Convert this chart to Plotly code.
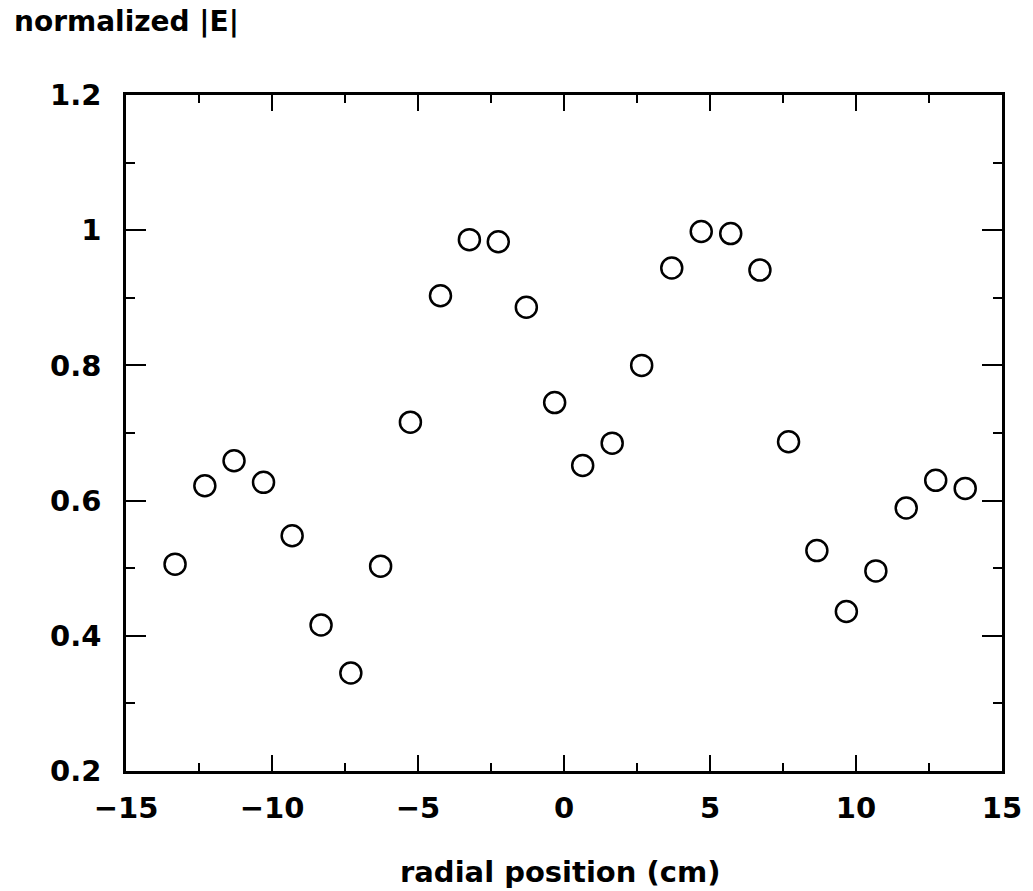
import plotly.graph_objects as go

# data
radial_cm = [-13.32, -12.30, -11.30, -10.29, -9.31, -8.32, -7.30, -6.28, -5.26, -4.23,
             -3.24, -2.25, -1.29, -0.32, 0.64, 1.65, 2.66, 3.69, 4.70, 5.71,
             6.71, 7.69, 8.66, 9.67, 10.68, 11.72, 12.73, 13.74]
norm_E = [0.506, 0.622, 0.659, 0.627, 0.548, 0.416, 0.345, 0.503, 0.716, 0.903,
          0.986, 0.983, 0.886, 0.745, 0.652, 0.685, 0.800, 0.944, 0.998, 0.995,
          0.941, 0.687, 0.526, 0.436, 0.496, 0.589, 0.630, 0.618]

x_ticks = [-15, -10, -5, 0, 5, 10, 15]
x_ticktext = ["\u221215", "\u221210", "\u22125", "0", "5", "10", "15"]
y_ticks = [0.2, 0.4, 0.6, 0.8, 1.0, 1.2]
y_ticktext = ["0.2", "0.4", "0.6", "0.8", "1", "1.2"]

FONT = "DejaVu Sans"

fig = go.Figure()
fig.add_trace(go.Scatter(
    x=radial_cm, y=norm_E, mode="markers",
    marker=dict(symbol="circle-open", size=21, color="black",
                line=dict(width=2.5, color="black")),
    showlegend=False,
))

W, H = 1033, 891
L, R, T, B = 126, 1002, 95, 771

axis_common = dict(
    showline=True, linewidth=2.5, linecolor="black",
    mirror="allticks", ticks="inside", tickwidth=2, tickcolor="black",
    showgrid=False, zeroline=False,
    tickfont=dict(family=FONT, size=29, color="black", weight="bold"),
)

fig.update_xaxes(
    range=[-15, 15], tickmode="array", tickvals=x_ticks, ticktext=x_ticktext,
    ticklen=16, ticklabelstandoff=9,
    minor=dict(dtick=2.5, ticks="inside", ticklen=8, tickwidth=2, tickcolor="black", showgrid=False),
    **axis_common,
)
fig.update_yaxes(
    range=[0.2, 1.2], tickmode="array", tickvals=y_ticks, ticktext=y_ticktext,
    ticklen=20, ticklabelstandoff=16,
    minor=dict(dtick=0.1, ticks="inside", ticklen=9, tickwidth=2, tickcolor="black", showgrid=False),
    **axis_common,
)

pw, ph = R - L, B - T
def px_x(p):
    return (p - L) / pw
def px_y(p):
    return (B - p) / ph

fig.add_annotation(
    text="normalized |E|", xref="paper", yref="paper",
    x=px_x(12), y=px_y(21), xanchor="left", yanchor="middle", showarrow=False,
    font=dict(family=FONT, size=28, color="black", weight="bold"),
)
fig.add_annotation(
    text="radial position (cm)", xref="paper", yref="paper",
    x=px_x(560), y=px_y(872), xanchor="center", yanchor="middle", showarrow=False,
    font=dict(family=FONT, size=29, color="black", weight="bold"),
)

fig.update_layout(
    width=W, height=H,
    margin=dict(l=L, r=W - R, t=T, b=H - B, pad=0),
    paper_bgcolor="white", plot_bgcolor="white",
)

fig.write_html("out.html")
